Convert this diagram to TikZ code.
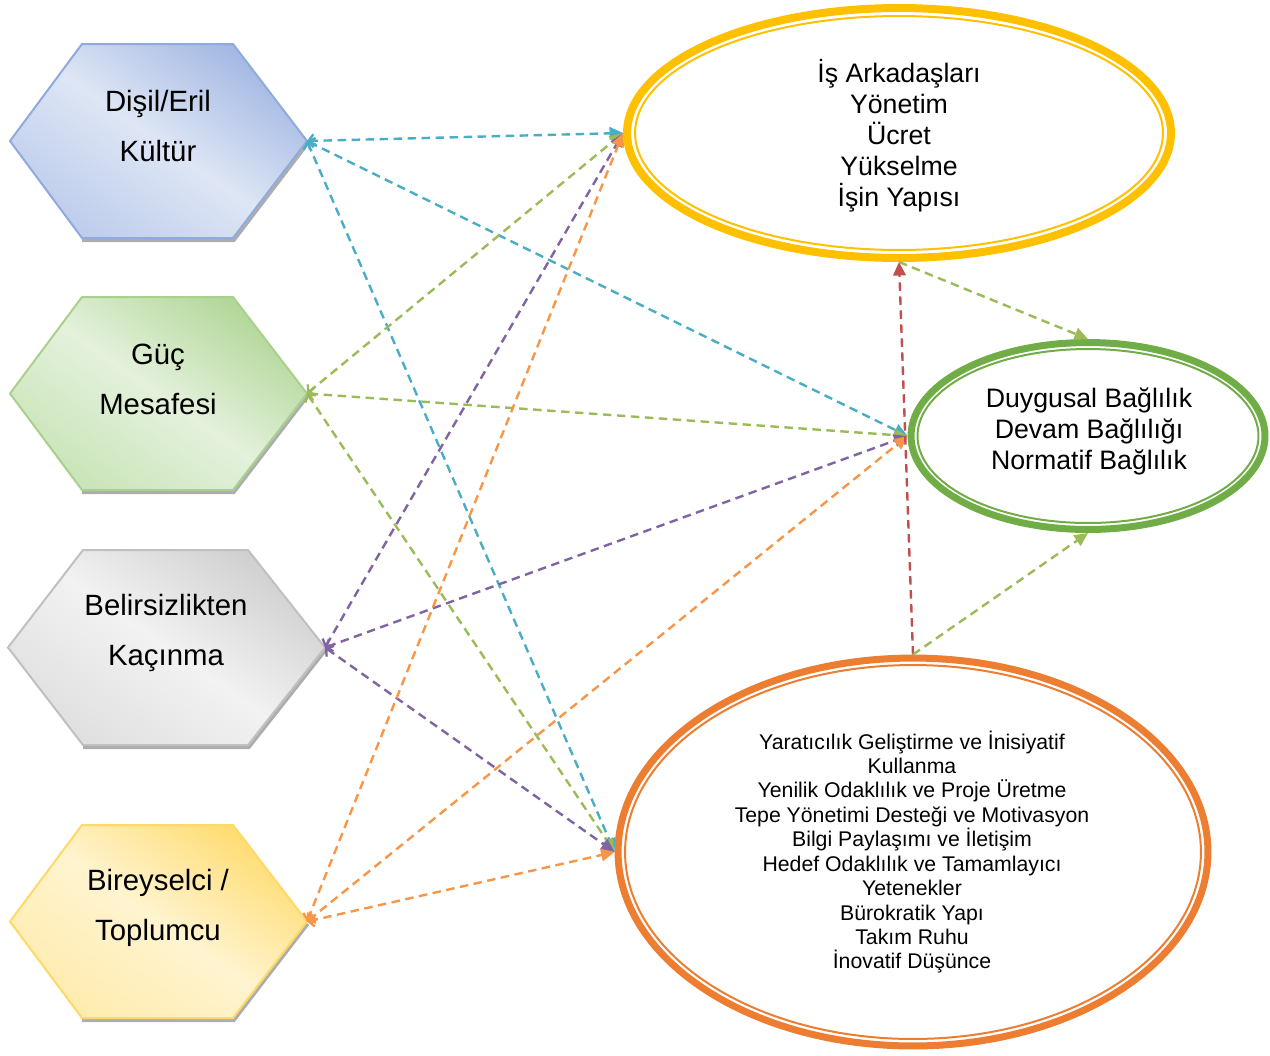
\documentclass[tikz,border=0pt]{standalone}
\usepackage{fontspec}
\setmainfont{Liberation Sans}
\usetikzlibrary{shapes.geometric,arrows.meta}
\definecolor{cCyan}{HTML}{4BACC6}
\definecolor{cGreen}{HTML}{9BBB59}
\definecolor{cPurple}{HTML}{8064A2}
\definecolor{cOrange}{HTML}{F79646}
\definecolor{cRed}{HTML}{C0504D}
\definecolor{eYel}{HTML}{FFC000}
\definecolor{eGreen}{HTML}{70AD47}
\definecolor{eOrange}{HTML}{ED7D31}
\newcommand\drawhex[8]{%
  \pgfmathsetmacro\hm{(#6+#7)/2}%
  \draw[hexshadow] (#5+1,\hm+2.5) -- (#4+1,#7+2.5) -- (#3,#7+2.5);
  \path[#8] (#2,\hm) -- (#3,#6) -- (#4,#6) -- (#5,\hm) -- (#4,#7) -- (#3,#7) -- cycle;
  \coordinate (#1) at (#5,\hm);
}
\begin{document}
\begin{tikzpicture}[x=0.02cm,y=-0.02cm,
  hexshadow/.style={draw=black!32,line width=0.06cm,line join=miter},
  hexblue/.style={draw={rgb,255:red,143;green,170;blue,220},line width=0.04cm,
     top color={rgb,255:red,163;green,184;blue,227},bottom color={rgb,255:red,190;green,205;blue,236},
     middle color={rgb,255:red,222;green,230;blue,245},shading angle=-35},
  hexgreen/.style={draw={rgb,255:red,169;green,209;blue,142},line width=0.04cm,
     top color={rgb,255:red,178;green,215;blue,152},bottom color={rgb,255:red,202;green,229;blue,185},
     middle color={rgb,255:red,228;green,241;blue,220},shading angle=-35},
  hexgray/.style={draw={rgb,255:red,192;green,192;blue,192},line width=0.04cm,
     top color={rgb,255:red,208;green,208;blue,208},bottom color={rgb,255:red,224;green,224;blue,224},
     middle color={rgb,255:red,242;green,242;blue,242},shading angle=-35},
  hexyellow/.style={draw={rgb,255:red,255;green,217;blue,102},line width=0.04cm,
     top color={rgb,255:red,255;green,220;blue,115},bottom color={rgb,255:red,255;green,236;blue,175},
     middle color={rgb,255:red,255;green,244;blue,208},shading angle=-35},
  hextext/.style={align=center,font=\fontsize{16.7}{28.5}\selectfont,inner sep=0},
  eltext/.style={align=center,font=\fontsize{15.2}{17.6}\selectfont,inner sep=0},
  eltextsmall/.style={align=center,font=\fontsize{12.1}{13.9}\selectfont,inner sep=0},
  conn/.style={dash pattern=on 0.17cm off 0.11cm,line width=0.048cm,
     {Straight Barb[length=0.1cm,width=0.26cm]}-{Triangle[length=0.27cm,width=0.25cm]}},
  link/.style={dash pattern=on 0.17cm off 0.11cm,line width=0.048cm,-{Triangle[length=0.27cm,width=0.25cm]}}
]
\useasboundingbox (0,0) rectangle (1270,1055);

% hexagons
\drawhex{h1}{10}{82}{233}{307}{44}{238}{hexblue}
\drawhex{h2}{10}{82}{233}{307}{297}{490}{hexgreen}
\drawhex{h3}{8}{83}{248}{325}{550}{745}{hexgray}
\drawhex{h4}{10}{82}{233}{307}{825}{1018}{hexyellow}
\node[hextext] (t1) at (158,126) {Dişil/Eril\\Kültür};
\node[hextext] (t2) at (158,379) {Güç\\Mesafesi};
\node[hextext] (t3) at (166,633) {Belirsizlikten\\Kaçınma};
\node[hextext] (t4) at (158,908) {Bireyselci /\\Toplumcu};

% ellipses
\node[ellipse,draw=eYel,line width=0.16cm,minimum width=10.88cm,minimum height=5cm,inner sep=0] (Y) at (899,133) {};
\draw[eYel,line width=0.04cm] (Y.center) ellipse [x radius=5.28cm,y radius=2.34cm];
\node[ellipse,draw=eGreen,line width=0.14cm,minimum width=7.08cm,minimum height=3.74cm,inner sep=0] (G) at (1088,436) {};
\draw[eGreen,line width=0.04cm] (G.center) ellipse [x radius=3.41cm,y radius=1.74cm];
\node[ellipse,draw=eOrange,line width=0.14cm,minimum width=11.8cm,minimum height=7.76cm,inner sep=0] (O) at (913,852) {};
\draw[eOrange,line width=0.04cm] (O.center) ellipse [x radius=5.76cm,y radius=3.74cm];

\node[eltext] (Yt) at (899,136) {İş Arkadaşları\\Yönetim\\Ücret\\Yükselme\\İşin Yapısı};
\node[eltext] (Gt) at (1089,431) {Duygusal Bağlılık\\Devam Bağlılığı\\Normatif Bağlılık};
\node[eltextsmall] (Ot) at (912,852) {Yaratıcılık Geliştirme ve İnisiyatif\\Kullanma\\Yenilik Odaklılık ve Proje Üretme\\Tepe Yönetimi Desteği ve Motivasyon\\Bilgi Paylaşımı ve İletişim\\Hedef Odaklılık ve Tamamlayıcı\\Yetenekler\\Bürokratik Yapı\\Takım Ruhu\\İnovatif Düşünce};

% connectors
\draw[conn,cCyan] (h1) -- (Y.west);
\draw[conn,cCyan] (h1) -- (G.west);
\draw[conn,cCyan] (h1) -- (O.west);
\draw[conn,cGreen] (h2) -- (Y.west);
\draw[conn,cGreen] (h2) -- (G.west);
\draw[conn,cGreen] (h2) -- (O.west);
\draw[conn,cPurple] (h3) -- (Y.west);
\draw[conn,cPurple] (h3) -- (G.west);
\draw[conn,cPurple] (h3) -- (O.west);
\draw[conn,cOrange] (h4) -- (Y.west);
\draw[conn,cOrange] (h4) -- (G.west);
\draw[conn,cOrange] (h4) -- (O.west);
\draw[link,cRed] (O.north) -- (Y.south);
\draw[link,cGreen] (Y.south) -- (G.north);
\draw[link,cGreen] (O.north) -- (G.south);
\end{tikzpicture}
\end{document}
